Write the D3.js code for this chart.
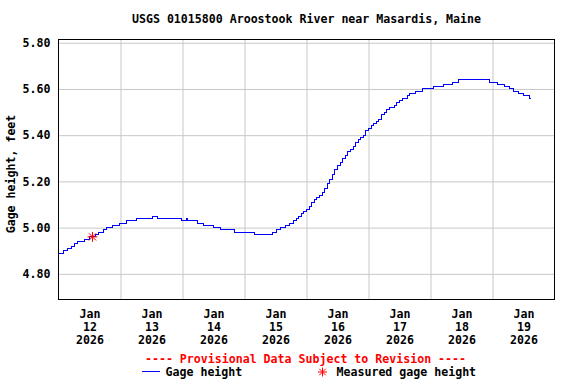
<!DOCTYPE html>
<html>
<head>
<meta charset="utf-8">
<script src="https://cdn.jsdelivr.net/npm/d3@7"></script>
<style>
  body { margin: 0; background: #fff; }
  text { font-family: "DejaVu Sans Mono", monospace; font-weight: bold; font-size: 11.6px; }
</style>
</head>
<body>
<div id="chart"></div>
<script>
// gage height change points (local time, feet)
var gageTimes = [
  "2026-01-12 00:00", "2026-01-12 01:45", "2026-01-12 03:30", "2026-01-12 05:00", "2026-01-12 06:00",
  "2026-01-12 07:30", "2026-01-12 10:15", "2026-01-12 12:00", "2026-01-12 14:30", "2026-01-12 15:30",
  "2026-01-12 17:15", "2026-01-12 18:30", "2026-01-12 21:00", "2026-01-12 23:30", "2026-01-13 02:15",
  "2026-01-13 06:15", "2026-01-13 12:15", "2026-01-13 14:15", "2026-01-13 23:45", "2026-01-14 01:30",
  "2026-01-14 02:00", "2026-01-14 05:45", "2026-01-14 08:15", "2026-01-14 12:00", "2026-01-14 14:45",
  "2026-01-14 20:00", "2026-01-15 04:00", "2026-01-15 10:45", "2026-01-15 12:30", "2026-01-15 14:00",
  "2026-01-15 16:00", "2026-01-15 17:30", "2026-01-15 19:00", "2026-01-15 20:00", "2026-01-15 21:00",
  "2026-01-15 22:00", "2026-01-15 23:00", "2026-01-16 00:00", "2026-01-16 01:00", "2026-01-16 02:00",
  "2026-01-16 03:00", "2026-01-16 04:00", "2026-01-16 05:00", "2026-01-16 06:00", "2026-01-16 07:00",
  "2026-01-16 08:00", "2026-01-16 09:00", "2026-01-16 10:00", "2026-01-16 11:00", "2026-01-16 12:00",
  "2026-01-16 13:00", "2026-01-16 14:00", "2026-01-16 15:00", "2026-01-16 16:00", "2026-01-16 17:00",
  "2026-01-16 18:00", "2026-01-16 19:00", "2026-01-16 20:00", "2026-01-16 21:00", "2026-01-16 22:00",
  "2026-01-16 23:00", "2026-01-17 00:00", "2026-01-17 01:00", "2026-01-17 02:00", "2026-01-17 03:00",
  "2026-01-17 04:00", "2026-01-17 05:00", "2026-01-17 06:00", "2026-01-17 07:00", "2026-01-17 08:00",
  "2026-01-17 10:00", "2026-01-17 11:00", "2026-01-17 12:00", "2026-01-17 13:00", "2026-01-17 15:00",
  "2026-01-17 16:00", "2026-01-17 18:00", "2026-01-17 21:00", "2026-01-18 01:00", "2026-01-18 05:00",
  "2026-01-18 08:30", "2026-01-18 10:45", "2026-01-18 23:00", "2026-01-19 02:00", "2026-01-19 04:30",
  "2026-01-19 06:45", "2026-01-19 08:15", "2026-01-19 10:15", "2026-01-19 12:00", "2026-01-19 14:30",
  "2026-01-19 15:00"
];
var gageValues = [
  4.89, 4.90, 4.91, 4.92, 4.93,
  4.94, 4.95, 4.96, 4.97, 4.98,
  4.99, 5.00, 5.01, 5.02, 5.03,
  5.04, 5.05, 5.04, 5.03, 5.04,
  5.03, 5.02, 5.01, 5.00, 4.99,
  4.98, 4.97, 4.98, 4.99, 5.00,
  5.01, 5.02, 5.03, 5.04, 5.05,
  5.06, 5.07, 5.08, 5.09, 5.11,
  5.12, 5.13, 5.14, 5.15, 5.17,
  5.19, 5.21, 5.23, 5.25, 5.27,
  5.28, 5.30, 5.31, 5.33, 5.34,
  5.35, 5.37, 5.38, 5.39, 5.40,
  5.42, 5.43, 5.44, 5.45, 5.46,
  5.47, 5.49, 5.50, 5.51, 5.52,
  5.53, 5.54, 5.55, 5.56, 5.57,
  5.58, 5.59, 5.60, 5.61, 5.62,
  5.63, 5.64, 5.63, 5.62, 5.61,
  5.60, 5.59, 5.58, 5.57, 5.56,
  5.56
];

// field measurement
var measuredTimes = ["2026-01-12 13:10"];
var measuredValues = [4.96];

var yTicks = [4.80, 5.00, 5.20, 5.40, 5.60, 5.80];
var dayLabels = ["2026-01-12", "2026-01-13", "2026-01-14", "2026-01-15",
                 "2026-01-16", "2026-01-17", "2026-01-18", "2026-01-19"];
var titleText = "USGS 01015800 Aroostook River near Masardis, Maine";

var width = 576, height = 384;
var plotLeft = 58.5, plotRight = 554.5, plotTop = 39.5, plotBottom = 299.5;

var parseTime = d3.utcParse("%Y-%m-%d %H:%M");
var parseDay = d3.utcParse("%Y-%m-%d");

var gage = gageTimes.map(function(t, i) { return { t: parseTime(t), v: gageValues[i] }; });
var measured = measuredTimes.map(function(t, i) { return { t: parseTime(t), v: measuredValues[i] }; });
var days = dayLabels.map(parseDay);

var svg = d3.select("#chart").append("svg")
  .attr("width", width)
  .attr("height", height);

var x = d3.scaleUtc()
  .domain([days[0], d3.utcDay.offset(days[days.length - 1], 1)])
  .range([plotLeft, plotRight]);

var y = d3.scaleLinear()
  .domain([4.689, 5.814])
  .range([plotBottom, plotTop]);

// title
svg.append("text")
  .attr("x", (plotLeft + plotRight) / 2)
  .attr("y", 23)
  .attr("text-anchor", "middle")
  .text(titleText);

// horizontal grid
svg.append("g")
  .attr("transform", "translate(" + plotLeft + ",0)")
  .call(d3.axisLeft(y).tickValues(yTicks).tickSize(-(plotRight - plotLeft)).tickFormat(""))
  .call(function(g) { g.select(".domain").remove(); })
  .selectAll("line").attr("stroke", "#c8c8c8");

// vertical grid at midnights
svg.append("g")
  .attr("transform", "translate(0," + plotBottom + ")")
  .call(d3.axisBottom(x).tickValues(days.slice(1)).tickSize(-(plotBottom - plotTop)).tickFormat(""))
  .call(function(g) { g.select(".domain").remove(); })
  .selectAll("line").attr("stroke", "#c8c8c8");

// y axis labels
svg.append("g")
  .attr("transform", "translate(" + plotLeft + ",0)")
  .call(d3.axisLeft(y).tickValues(yTicks).tickSize(0).tickPadding(8).tickFormat(d3.format(".2f")))
  .call(function(g) { g.select(".domain").remove(); })
  .selectAll("text")
  .attr("fill", "#000")
  .style("font-family", "'DejaVu Sans Mono', monospace")
  .style("font-size", "11.6px");

// x axis labels at noon
var noons = days.map(function(d) { return d3.utcHour.offset(d, 12); });
var gx = svg.append("g")
  .attr("transform", "translate(0," + plotBottom + ")")
  .call(d3.axisBottom(x).tickValues(noons).tickSize(0).tickFormat(""));
gx.select(".domain").remove();
gx.selectAll(".tick text")
  .attr("dy", null)
  .attr("y", null)
  .attr("fill", "#000")
  .style("font-family", "'DejaVu Sans Mono', monospace")
  .style("font-size", "11.6px")
  .each(function(d) {
    var t = d3.select(this);
    var lines = [d3.utcFormat("%b")(d), d3.utcFormat("%-d")(d), d3.utcFormat("%Y")(d)];
    lines.forEach(function(s, i) {
      t.append("tspan").attr("x", 0).attr("y", 18.5 + i * 13).text(s);
    });
  });

// y axis title
svg.append("text")
  .attr("transform", "translate(15," + 174 + ") rotate(-90)")
  .attr("text-anchor", "middle")
  .text("Gage height, feet");

// gage line
svg.append("path")
  .datum(gage)
  .attr("fill", "none")
  .attr("stroke", "#0000ff")
  .attr("stroke-width", 1)
  .attr("shape-rendering", "crispEdges")
  .attr("d", d3.line()
    .curve(d3.curveStepAfter)
    .x(function(d) { return x(d.t); })
    .y(function(d) { return y(d.v); }));

function star(r) {
  var a = r * 0.72;
  return "M" + (-r) + ",0H" + r + "M0," + (-r) + "V" + r +
    "M" + (-a) + "," + (-a) + "L" + a + "," + a +
    "M" + (-a) + "," + a + "L" + a + "," + (-a);
}

// measured points
svg.selectAll(".meas")
  .data(measured)
  .enter().append("path")
  .attr("class", "meas")
  .attr("transform", function(d) { return "translate(" + x(d.t) + "," + y(d.v) + ")"; })
  .attr("d", star(5))
  .attr("stroke", "#ff0000")
  .attr("stroke-width", 1)
  .attr("fill", "none");

// plot frame
svg.append("rect")
  .attr("x", plotLeft)
  .attr("y", plotTop)
  .attr("width", plotRight - plotLeft)
  .attr("height", plotBottom - plotTop)
  .attr("fill", "none")
  .attr("stroke", "#000");

// legend
svg.append("text")
  .attr("x", 305.5)
  .attr("y", 363)
  .attr("text-anchor", "middle")
  .attr("fill", "#ff0000")
  .text("---- Provisional Data Subject to Revision ----");

svg.append("line")
  .attr("x1", 142).attr("x2", 160)
  .attr("y1", 371.5).attr("y2", 371.5)
  .attr("stroke", "#0000ff");
svg.append("text")
  .attr("x", 165.5)
  .attr("y", 376)
  .text("Gage height");

svg.append("path")
  .attr("transform", "translate(322.5,372)")
  .attr("d", star(4.5))
  .attr("stroke", "#ff0000")
  .attr("fill", "none");
svg.append("text")
  .attr("x", 336.5)
  .attr("y", 376)
  .text("Measured gage height");
</script>
</body>
</html>
